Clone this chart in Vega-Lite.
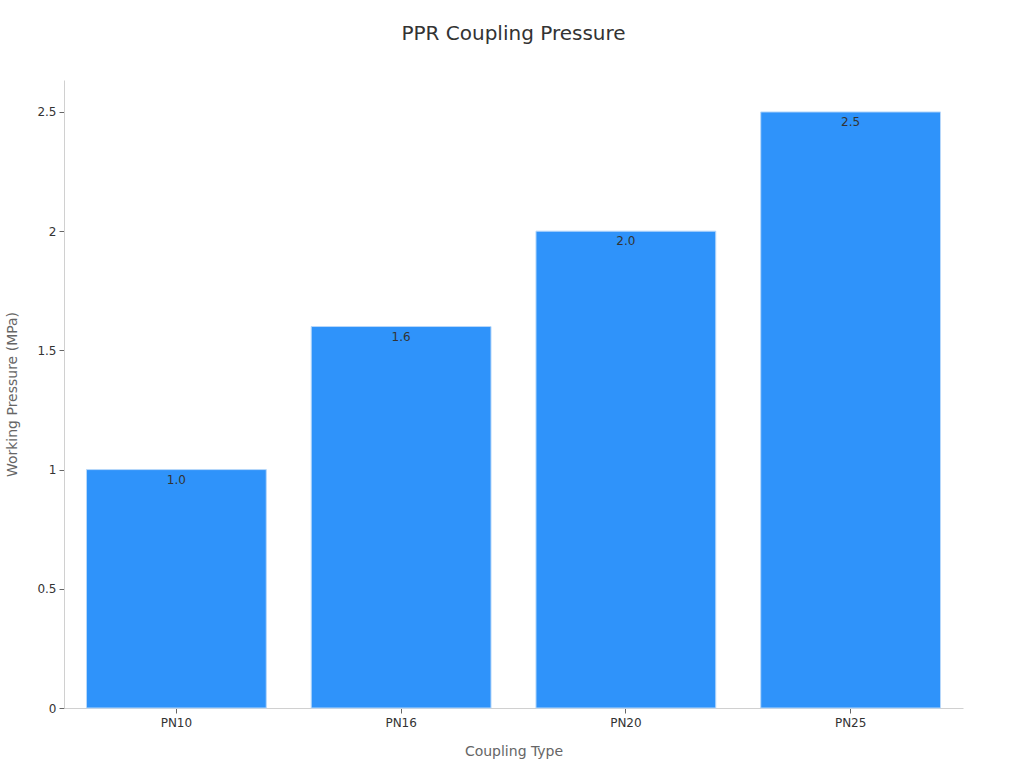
{
  "$schema": "https://vega.github.io/schema/vega-lite/v6.json",
  "autosize": {"type": "none"},
  "width": 899,
  "height": 628,
  "padding": {"left": 64, "top": 80, "right": 61, "bottom": 60},
  "background": "#ffffff",
  "title": {
    "text": "PPR Coupling Pressure",
    "fontSize": 20,
    "font": "DejaVu Sans",
    "fontWeight": "normal",
    "color": "#333333",
    "anchor": "middle",
    "offset": 36
  },
  "config": {
    "view": {"stroke": null},
    "font": "DejaVu Sans"
  },
  "data": {
    "values": [
      {"type": "PN10", "pressure": 1.0},
      {"type": "PN16", "pressure": 1.6},
      {"type": "PN20", "pressure": 2.0},
      {"type": "PN25", "pressure": 2.5}
    ]
  },
  "encoding": {
    "x": {
      "field": "type",
      "type": "nominal",
      "sort": null,
      "scale": {"paddingInner": 0.2, "paddingOuter": 0.1},
      "axis": {
        "title": "Coupling Type",
        "titleFontSize": 14,
        "titleFontWeight": "normal",
        "titleColor": "#666666",
        "titlePadding": 16,
        "labelAngle": 0,
        "labelFontSize": 12,
        "labelColor": "#333333",
        "labelPadding": 4,
        "domainColor": "#d0d0d0",
        "tickColor": "#666666",
        "tickSize": 5,
        "grid": false
      }
    },
    "y": {
      "field": "pressure",
      "type": "quantitative",
      "scale": {"domain": [0, 2.634], "nice": false},
      "axis": {
        "title": "Working Pressure (MPa)",
        "titleFontSize": 14,
        "titleFontWeight": "normal",
        "titleColor": "#666666",
        "titlePadding": 17,
        "values": [0, 0.5, 1, 1.5, 2, 2.5],
        "format": "~g",
        "labelFontSize": 12,
        "labelColor": "#333333",
        "labelPadding": 3,
        "domainColor": "#d0d0d0",
        "tickColor": "#666666",
        "tickSize": 5,
        "grid": false
      }
    }
  },
  "layer": [
    {
      "mark": {"type": "bar", "fill": "#2f93fa", "stroke": "#b8d8fa", "strokeWidth": 1}
    },
    {
      "mark": {"type": "text", "baseline": "middle", "dy": 10, "fontSize": 12, "color": "#333333"},
      "encoding": {
        "text": {"field": "pressure", "type": "quantitative", "format": ".1f"}
      }
    }
  ]
}
